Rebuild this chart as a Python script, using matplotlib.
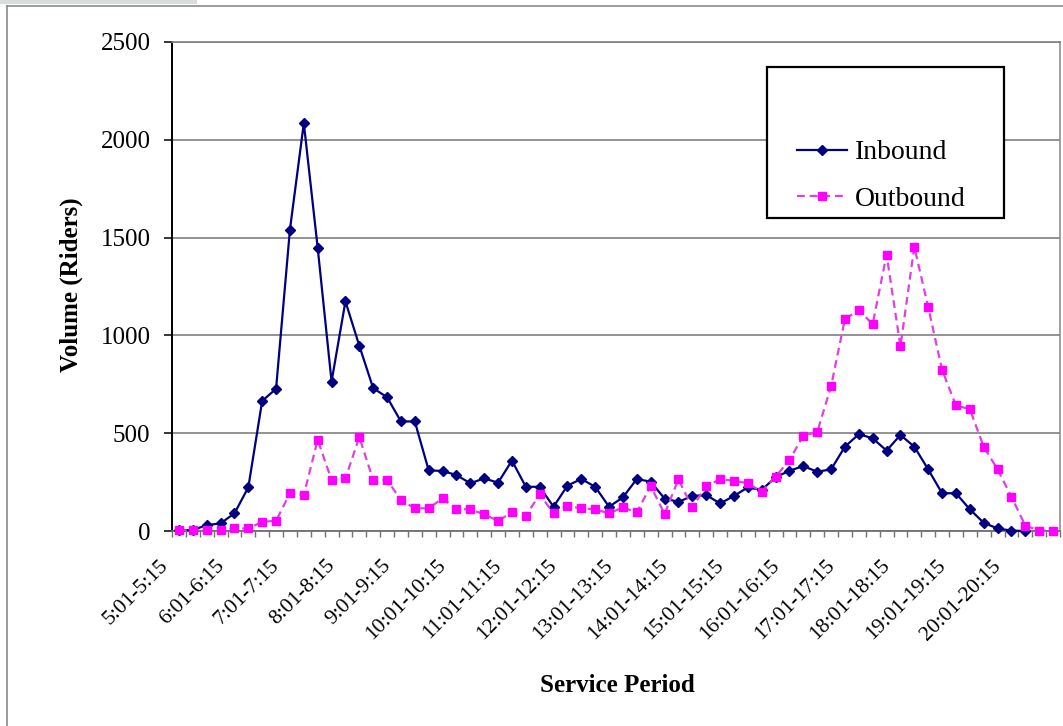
import numpy as np
import matplotlib
matplotlib.use("Agg")
import matplotlib.pyplot as plt
from matplotlib.patches import Rectangle
from matplotlib.lines import Line2D
from matplotlib.transforms import ScaledTranslation

plt.rcParams['font.family'] = ['Liberation Serif', 'DejaVu Serif']

# ---- data ----
hours = list(range(5, 21))
periods = [f"{h}:{m:02d}-{h if m < 46 else h + 1}:{(m + 14) % 60 if m < 46 else 0:02d}"
           for h in range(5, 21) for m in (1, 16, 31, 46)]
tick_labels = [f"{h}:01-{h}:15" for h in hours]

inbound = [3, 5, 30, 39, 90, 223, 665, 727, 1541, 2085, 1448, 764, 1174, 947, 730, 684,
           560, 560, 310, 307, 286, 244, 269, 247, 360, 226, 226, 124, 232, 266, 226, 124,
           172, 266, 252, 166, 149, 179, 184, 141, 179, 223, 210, 275, 308, 332, 303, 315,
           431, 495, 474, 411, 491, 431, 315, 193, 193, 111, 42, 13, 2, 0]
outbound = [3, 3, 5, 5, 13, 13, 47, 52, 193, 184, 466, 261, 269, 480, 261, 261,
            158, 116, 116, 167, 111, 111, 85, 52, 95, 78, 187, 90, 127, 116, 111, 90,
            121, 95, 230, 87, 264, 121, 230, 264, 257, 244, 201, 278, 362, 488, 505, 740,
            1084, 1128, 1058, 1413, 944, 1453, 1145, 824, 642, 623, 431, 315, 175, 28, 2, 2]

W, H = 1063, 726
fig = plt.figure(figsize=(W / 100, H / 100), dpi=100)
fig.patch.set_facecolor('white')

ax = fig.add_axes([172 / W, 1 - 531 / H, 888 / W, 489 / H])

x_in = np.arange(len(inbound))
x_out = np.arange(len(outbound))

ax.plot(x_in, inbound, color='#000080', lw=1.6, marker='D', ms=5.6,
        mfc='#000080', mec='#000080', label='Inbound', clip_on=False, zorder=3)
ax.plot(x_out, outbound, color='#E040E0', lw=1.6, ls=(0, (3.5, 2.2)), marker='s', ms=5.6,
        mfc='#FF00FF', mec='#FF00FF', label='Outbound', clip_on=False, zorder=3)

ax.set_xlim(-0.5, len(periods) - 0.5)
ax.set_ylim(0, 2500)

# grid & spines
ax.set_yticks(np.arange(0, 2501, 500))
ax.yaxis.grid(True, color='#808080', lw=1.2)
ax.set_axisbelow(True)
ax.spines['left'].set_color('black')
ax.spines['left'].set_linewidth(1.4)
ax.spines['bottom'].set_color('#707070')
ax.spines['bottom'].set_linewidth(1.3)
ax.spines['right'].set_color('#909090')
ax.spines['right'].set_linewidth(1.2)
ax.spines['top'].set_color('#808080')
ax.spines['top'].set_linewidth(1.2)

ax.tick_params(axis='y', which='major', direction='out', length=5.5, width=1.1,
               color='black', pad=10, labelsize=18)

ax.set_xticks(np.arange(0, len(periods), 4))
ax.set_xticks(np.arange(-0.5, len(periods), 1), minor=True)
ax.tick_params(axis='x', which='major', length=0, pad=23)
ax.tick_params(axis='x', which='minor', direction='out', length=4.5, width=1.0,
               color='#707070')
ax.set_xticklabels(tick_labels, rotation=45, ha='right', va='center',
                   rotation_mode='anchor', fontsize=15.5)
offset = ScaledTranslation(-13 / 100, 0, fig.dpi_scale_trans)
for lab in ax.get_xticklabels():
    lab.set_transform(lab.get_transform() + offset)

# axis titles
fig.text(71 / W, 1 - 285 / H, 'Volume (Riders)', rotation=90, ha='center', va='center',
         fontsize=18, fontweight='bold')
fig.text(617 / W, 1 - 686 / H, 'Service Period', ha='center', va='center',
         fontsize=18, fontweight='bold')

# legend with its own box
box = Rectangle((767 / W, 1 - 218 / H), (1004 - 767) / W, (218 - 67) / H,
                transform=fig.transFigure, facecolor='white', edgecolor='black',
                lw=1.6, zorder=4)
ax.add_patch(box)
box.set_clip_on(False)
leg = ax.legend(loc='upper left', bbox_to_anchor=(797 / W, 1 - 140 / H),
                bbox_transform=fig.transFigure, frameon=False, fontsize=20,
                handlelength=1.8, handletextpad=0.3, labelspacing=0.75,
                borderpad=0, borderaxespad=0)
leg.set_zorder(5)

# outer chart frame and top-left strip
fig.add_artist(Line2D([7 / W, 1], [1 - 6 / H, 1 - 6 / H], transform=fig.transFigure,
                      color='#8a8a8a', lw=1.2))
fig.add_artist(Line2D([7 / W, 7 / W], [0, 1 - 6 / H], transform=fig.transFigure,
                      color='#8a8a8a', lw=1.2))
fig.add_artist(Rectangle((0, 1 - 4 / H), 197 / W, 4 / H, transform=fig.transFigure,
                         facecolor='#d9dcdc', edgecolor='none'))

fig.savefig('out.png', dpi=100, facecolor='white')
